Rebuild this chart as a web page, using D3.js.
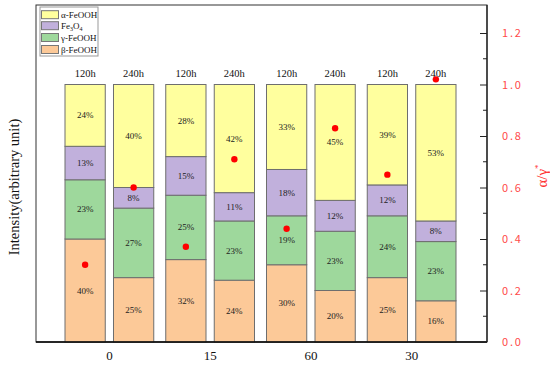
<!DOCTYPE html>
<html>
<head>
<meta charset="utf-8">
<script src="https://d3js.org/d3.v7.min.js"></script>
<style>
  body { margin: 0; background: #fff; }
  svg { display: block; }
</style>
</head>
<body>
<svg id="chart" width="550" height="367"></svg>
<script>
// rust-phase composition for each sample (percent), two exposure times per group
const groups = ["0", "15", "60", "30"];
const times = ["120h", "240h"];
const beta = [40, 25, 32, 24, 30, 20, 25, 16];
const gamma = [23, 27, 25, 23, 19, 23, 24, 23];
const fe3o4 = [13, 8, 15, 11, 18, 12, 12, 8];
const alpha = [24, 40, 28, 42, 33, 45, 39, 53];
// alpha/gamma* ratio, right axis
const ratio = [0.30, 0.60, 0.37, 0.71, 0.44, 0.83, 0.65, 1.02];
const rightTicks = [0, 0.2, 0.4, 0.6, 0.8, 1.0, 1.2];

const keys = ["beta", "gamma", "fe3o4", "alpha"];
const colors = { beta: "#fcc998", gamma: "#9ed89c", fe3o4: "#c1b0dc", alpha: "#ffff9e" };

// rows for the stack
let rows = [];
groups.forEach((g, gi) => {
    times.forEach((t, ti) => {
        let i = gi * times.length + ti;
        rows.push({ group: g, time: t, beta: beta[i], gamma: gamma[i], fe3o4: fe3o4[i], alpha: alpha[i], ratio: ratio[i] });
    });
});

let svg = d3.select("#chart");
let pLeft = 36, pRight = 487, pTop = 5, pBottom = 342;
const serif = "'Liberation Serif', 'Times New Roman', serif";

let x0 = d3.scaleBand().domain(groups).range([59, 462]).paddingInner(0).paddingOuter(0);
let x1 = d3.scaleBand().domain(times).range([6, x0.bandwidth() - 6]).paddingInner(0.17);
let y = d3.scaleLinear().domain([0, 1]).range([pBottom, 84.5]);   // bars as fraction

let series = d3.stack().keys(keys)(rows);

// frame
svg.append("rect")
    .attr("x", pLeft).attr("y", pTop)
    .attr("width", pRight - pLeft).attr("height", pBottom - pTop)
    .attr("fill", "none").attr("stroke", "#333").attr("stroke-width", 1);

// bars
let barG = svg.append("g");
series.forEach(s => {
    barG.selectAll(null)
        .data(s)
        .join("rect")
        .attr("x", d => x0(d.data.group) + x1(d.data.time))
        .attr("width", x1.bandwidth())
        .attr("y", d => y(d[1] / 100))
        .attr("height", d => y(d[0] / 100) - y(d[1] / 100))
        .attr("fill", colors[s.key])
        .attr("stroke", "#6e6e6e")
        .attr("stroke-width", 1);
});
series.forEach(s => {
    barG.selectAll(null)
        .data(s)
        .join("text")
        .attr("x", d => x0(d.data.group) + x1(d.data.time) + x1.bandwidth() / 2)
        .attr("y", d => (y(d[0] / 100) + y(d[1] / 100)) / 2 + 3)
        .attr("text-anchor", "middle")
        .attr("font-family", serif)
        .attr("font-size", 9)
        .attr("fill", "#222")
        .text(d => d.data[s.key] + "%");
});

// time labels above bars
svg.append("g").selectAll("text")
    .data(rows)
    .join("text")
    .attr("x", d => x0(d.group) + x1(d.time) + x1.bandwidth() / 2)
    .attr("y", 77)
    .attr("text-anchor", "middle")
    .attr("font-family", serif)
    .attr("font-size", 10.5)
    .attr("fill", "#111")
    .text(d => d.time);

// bottom axis
let xAxis = svg.append("g")
    .attr("transform", `translate(0,${pBottom})`)
    .call(d3.axisBottom(x0).tickSize(0).tickPadding(9));
xAxis.select(".domain").attr("d", `M${pLeft},0H${pRight}`).attr("stroke", "#000").attr("stroke-width", 1.6);
xAxis.selectAll("text").attr("font-family", serif).attr("font-size", 13).attr("fill", "#111");

// right axis
let yR = d3.scaleLinear().domain([0, 1]).range([pBottom, 84.5]);
let minor = [0.1, 0.3, 0.5, 0.7, 0.9, 1.1];
svg.append("g").selectAll("line")
    .data(minor)
    .join("line")
    .attr("x1", pRight - 4).attr("x2", pRight)
    .attr("y1", d => yR(d)).attr("y2", d => yR(d))
    .attr("stroke", "#222");
let rAxis = svg.append("g")
    .attr("transform", `translate(${pRight},0)`)
    .call(d3.axisRight(yR).tickValues(rightTicks).tickSize(-7).tickPadding(15).tickFormat(d3.format(".1f")));
rAxis.select(".domain").attr("d", `M0,${pBottom}V${pTop}`).attr("stroke", "#222").attr("stroke-width", 1.3);
rAxis.selectAll(".tick line").attr("stroke", "#222");
rAxis.selectAll("text")
    .attr("font-family", "'Noto Sans CJK SC', 'DejaVu Sans', sans-serif")
    .attr("font-size", 11)
    .attr("letter-spacing", 1.8)
    .attr("fill", "#ff4a4a");

// ratio dots
svg.append("g").selectAll("circle")
    .data(rows)
    .join("circle")
    .attr("cx", d => x0(d.group) + x1(d.time) + x1.bandwidth() / 2)
    .attr("cy", d => yR(d.ratio))
    .attr("r", 3.2)
    .attr("fill", "#ff0000");

// axis titles
svg.append("text")
    .attr("transform", "translate(19,187) rotate(-90)")
    .attr("text-anchor", "middle")
    .attr("font-family", serif)
    .attr("font-size", 14.5)
    .attr("fill", "#111")
    .text("Intensity(arbitrary unit)");

let rt = svg.append("text")
    .attr("transform", "translate(547,176) rotate(-90)")
    .attr("text-anchor", "middle")
    .attr("font-family", serif)
    .attr("font-size", 15)
    .attr("fill", "#ff3030");
rt.append("tspan").text("α/γ");
rt.append("tspan").attr("dy", -6).attr("font-size", 9).text("*");

// legend
let legendItems = [
    { key: "alpha", label: [["α-FeOOH", false]] },
    { key: "fe3o4", label: [["Fe", false], ["3", true], ["O", false], ["4", true]] },
    { key: "gamma", label: [["γ-FeOOH", false]] },
    { key: "beta", label: [["β-FeOOH", false]] }
];
let lg = svg.append("g");
lg.append("rect")
    .attr("x", 40).attr("y", 7).attr("width", 58).attr("height", 49)
    .attr("fill", "#fff").attr("stroke", "#999").attr("stroke-width", 1);
let rowY = [14.7, 25.7, 37.5, 49.5];
legendItems.forEach((it, i) => {
    lg.append("rect")
        .attr("x", 41.5).attr("y", rowY[i] - 4).attr("width", 17).attr("height", 8)
        .attr("fill", colors[it.key]).attr("stroke", "#777").attr("stroke-width", 1);
    let t = lg.append("text")
        .attr("x", 61).attr("y", rowY[i] + 3)
        .attr("font-family", serif).attr("font-size", 9).attr("fill", "#111");
    it.label.forEach(([s, sub], j) => {
        let ts = t.append("tspan").text(s);
        if (sub) ts.attr("font-size", 6).attr("dy", 2);
        else if (j > 0) ts.attr("dy", -2);
    });
});
</script>
</body>
</html>
